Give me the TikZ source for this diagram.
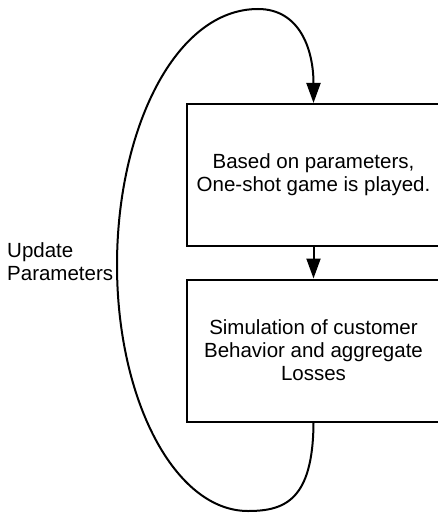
\documentclass[tikz,border=0pt]{standalone}
\usepackage{fontspec}
\setmainfont{Liberation Sans}
\usetikzlibrary{arrows.meta}
\begin{document}
\begin{tikzpicture}[x=1pt,y=-1pt,
  stepbox/.style={draw,line width=2pt,minimum width=253pt,minimum height=142pt,align=center,inner sep=0pt,font=\fontsize{20.5}{23}\selectfont},
  conn/.style={line width=2pt,-{Triangle[length=20pt,width=14pt]}},
  lbl/.style={align=left,font=\fontsize{20.5}{23}\selectfont,inner sep=0pt}]
\clip (0,0) rectangle (438,513);
\useasboundingbox (0,0) rectangle (438,513);
\node[stepbox] (box1) at (313.5,175) {Based on parameters,\\One-shot game is played.};
\node[stepbox] (box2) at (313.5,350.5) {Simulation of customer\\Behavior and aggregate\\Losses};
\node[lbl,anchor=west] (upd) at (7,262) {Update\\Parameters};
\draw[conn] (box1.south) -- (box2.north);
\coordinate (bot) at (248,511);
\coordinate (lft) at (117,265);
\coordinate (top) at (258,9);
\draw[conn] (box2.south) .. controls (313,500) and (285,511) .. (bot)
  .. controls (175,511) and (117,400) .. (lft)
  .. controls (117,130) and (175,9) .. (top)
  .. controls (300,9) and (313.5,50) .. (box1.north);
\end{tikzpicture}
\end{document}
